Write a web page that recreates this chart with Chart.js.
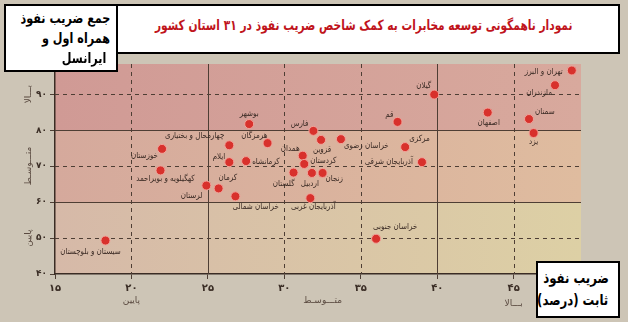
<!DOCTYPE html>
<html lang="fa">
<head>
    <meta charset="UTF-8">
    <title>نمودار ناهمگونی توسعه مخابرات</title>
    <script src="https://cdn.jsdelivr.net/npm/chart.js"></script>
    <style>
        html, body {
            margin: 0;
            padding: 0;
            background: #cdc5b6;
        }
        body {
            width: 628px;
            height: 322px;
            position: relative;
            overflow: hidden;
            font-family: 'DejaVu Sans', sans-serif;
        }
        .chart-container {
            position: absolute;
            left: 0;
            top: 0;
            width: 628px;
            height: 322px;
        }
        .box {
            position: absolute;
            background: #fff;
            border: 2px solid #000;
            box-sizing: border-box;
            direction: rtl;
            font-weight: bold;
            white-space: nowrap;
        }
        .box span {
            display: inline-block;
            transform: scaleX(0.78);
        }
        #title {
            left: 107px;
            top: 4px;
            width: 513px;
            height: 50px;
            color: #c0141c;
            font-size: 14px;
            text-align: center;
            padding-top: 11px;
        }
        #title span {
            transform: scaleX(0.76);
            margin-right: -20px;
        }
        #yName {
            left: 4px;
            top: 4px;
            width: 114px;
            height: 68px;
            font-size: 14px;
            line-height: 20px;
            padding: 2px 6px 0 0;
            text-align: right;
        }
        #yName span {
            transform-origin: right center;
            transform: scaleX(0.8);
        }
        #xName {
            left: 536px;
            top: 261px;
            width: 84px;
            height: 57px;
            font-size: 15px;
            line-height: 22px;
            padding-top: 4px;
            text-align: center;
        }
    </style>
</head>
<body>
    <div class="chart-container">
        <canvas id="nofuzChart"></canvas>
    </div>
    <div class="box" id="title"><span>نمودار ناهمگونی توسعه مخابرات به کمک شاخص ضریب نفوذ در ۳۱ استان کشور</span></div>
    <div class="box" id="yName"><span>جمع ضریب نفوذ</span><br><span>همراه اول و</span><br><span>&nbsp;ایرانسل&nbsp;&nbsp;</span></div>
    <div class="box" id="xName"><span>ضریب نفوذ</span><br><span>ثابت (درصد)</span></div>

    <script>
        // استان‌ها و ضریب نفوذ (خوانده شده از روی تصویر)
        const provinces = [
            'تهران و البرز', 'مازندران', 'گیلان', 'اصفهان', 'سمنان', 'یزد',
            'قم', 'بوشهر', 'فارس', 'خراسان رضوی', 'قزوین', 'هرمزگان',
            'چهارمحال و بختیاری', 'مرکزی', 'خوزستان', 'همدان', 'ایلام', 'کرمانشاه',
            'کردستان', 'آذربایجان شرقی', 'کهگیلویه و بویراحمد', 'گلستان', 'اردبیل', 'زنجان',
            'لرستان', 'کرمان', 'خراسان شمالی', 'آذربایجان غربی', 'خراسان جنوبی', 'سیستان و بلوچستان'
        ];
        // ضریب نفوذ ثابت (محور افقی)
        const fixedRate = [
            48.8, 47.7, 39.8, 43.3, 46.0, 46.3,
            37.4, 27.7, 31.9, 33.7, 32.4, 28.9,
            26.4, 37.9, 22.0, 31.2, 26.4, 27.5,
            31.3, 39.0, 21.9, 30.6, 31.8, 32.5,
            24.9, 25.7, 26.8, 31.7, 36.0, 18.3
        ];
        // جمع ضریب نفوذ همراه اول و ایرانسل (محور عمودی)
        const mobileRate = [
            96.6, 92.5, 89.9, 84.9, 83.1, 79.2,
            82.3, 81.7, 79.8, 77.5, 77.3, 76.4,
            75.8, 75.3, 74.8, 72.9, 71.1, 71.4,
            70.6, 71.1, 68.8, 68.2, 68.1, 68.1,
            64.6, 63.8, 61.6, 61.1, 49.8, 49.3
        ];
        const xTickValues = [15, 20, 25, 30, 35, 40, 45];
        const xTickLabels = ['۱۵', '۲۰', '۲۵', '۳۰', '۳۵', '۴۰', '۴۵'];
        const yTickValues = [40, 50, 60, 70, 80, 90];
        const yTickLabels = ['۴۰', '۵۰', '۶۰', '۷۰', '۸۰', '۹۰'];
        const levelNames = ['پایین', 'متـــوسـط', 'بـــالا'];

        // جای برچسب هر استان نسبت به نقطه: [dx, dy, align]
        const labelPlace = [
            [-9, 1, 'right'], [-3, 8, 'right'], [-3, -9, 'right'], [1, 10, 'center'], [6, -7, 'left'], [0, 9, 'center'],
            [-4, -7, 'right'], [0, -10, 'center'], [-5, -7, 'right'], [3, 7, 'left'], [1, 10, 'center'], [0, -7, 'right'],
            [-5, -9, 'right'], [4, -8, 'left'], [-4, 7, 'right'], [-3, -7, 'right'], [-4, -5, 'right'], [6, 1, 'left'],
            [6, -3, 'left'], [-9, 0, 'right'], [5, 8, 'center'], [1, 11, 'right'], [-2, 11, 'center'], [3, 6, 'left'],
            [-4, 10, 'right'], [0, -11, 'left'], [-3, 10, 'left'], [3, 9, 'center'], [-3, -12, 'left'], [-15, 11, 'center']
        ];

        const darkLine = '#4e3e34';

        const backgroundBands = {
            id: 'backgroundBands',
            beforeDraw(chart) {
                const { ctx, chartArea, scales: { x, y } } = chart;
                const bands = [
                    { from: 80, to: y.max, c0: '#d09a95', c1: '#d8a99d' },
                    { from: 60, to: 80, c0: '#d5a99c', c1: '#dfbc9f' },
                    { from: 40, to: 60, c0: '#d6b9a8', c1: '#ddd0a5' }
                ];
                ctx.save();
                bands.forEach(b => {
                    const top = y.getPixelForValue(b.to);
                    const bottom = y.getPixelForValue(b.from);
                    const g = ctx.createLinearGradient(chartArea.left, 0, chartArea.right, 0);
                    g.addColorStop(0, b.c0);
                    g.addColorStop(1, b.c1);
                    ctx.fillStyle = g;
                    ctx.fillRect(chartArea.left, top, chartArea.right - chartArea.left, bottom - top);
                });
                ctx.restore();
            },
            beforeDatasetsDraw(chart) {
                const { ctx, chartArea, scales: { x, y } } = chart;
                ctx.save();
                ctx.strokeStyle = darkLine;
                ctx.lineWidth = 1;
                // خطوط عمودی
                [20, 25, 30, 35, 40, 45].forEach(v => {
                    const px = Math.round(x.getPixelForValue(v)) + 0.5;
                    ctx.setLineDash(v === 25 || v === 40 ? [] : [4, 4]);
                    ctx.beginPath();
                    ctx.moveTo(px, chartArea.top);
                    ctx.lineTo(px, chartArea.bottom);
                    ctx.stroke();
                });
                // خطوط افقی
                [50, 60, 70, 80, 90].forEach(v => {
                    const py = Math.round(y.getPixelForValue(v)) + 0.5;
                    ctx.setLineDash(v === 60 || v === 80 ? [] : [4, 4]);
                    ctx.beginPath();
                    ctx.moveTo(chartArea.left, py);
                    ctx.lineTo(chartArea.right, py);
                    ctx.stroke();
                });
                ctx.restore();
            },
            afterDatasetsDraw(chart) {
                const { ctx, scales: { x, y } } = chart;
                const meta = chart.getDatasetMeta(0);
                ctx.save();
                ctx.font = '8.5px "DejaVu Sans"';
                ctx.fillStyle = '#3b2b25';
                ctx.textBaseline = 'middle';
                ctx.direction = 'rtl';
                meta.data.forEach((pt, i) => {
                    const [dx, dy, align] = labelPlace[i];
                    ctx.save();
                    ctx.translate(pt.x + dx, pt.y + dy);
                    ctx.scale(0.84, 1);
                    ctx.textAlign = align;
                    ctx.fillText(provinces[i], 0, 0);
                    ctx.restore();
                });

                // سطح‌ها زیر محور افقی
                ctx.font = '9px "DejaVu Sans"';
                ctx.fillStyle = '#5a4a40';
                ctx.textAlign = 'center';
                ctx.fillText(levelNames[0], x.getPixelForValue(20), 301);
                ctx.fillText(levelNames[1], x.getPixelForValue(32.5), 301);
                ctx.fillText(levelNames[2], x.getPixelForValue(45), 304);

                // سطح‌ها کنار محور عمودی
                [[90, levelNames[2]], [70, levelNames[1]], [50, levelNames[0]]].forEach(([v, t]) => {
                    ctx.save();
                    ctx.translate(29, y.getPixelForValue(v));
                    ctx.rotate(-Math.PI / 2);
                    ctx.fillText(t, 0, 0);
                    ctx.restore();
                });
                ctx.restore();
            }
        };

        const ctxNofuz = document.getElementById('nofuzChart').getContext('2d');
        new Chart(ctxNofuz, {
            type: 'scatter',
            data: {
                datasets: [{
                    label: 'استان‌ها',
                    data: fixedRate.map((v, i) => ({ x: v, y: mobileRate[i] })),
                    backgroundColor: '#d8312c',
                    borderColor: '#f2a39a',
                    borderWidth: 1,
                    pointRadius: 4.5,
                    pointHoverRadius: 4.5
                }]
            },
            options: {
                responsive: true,
                maintainAspectRatio: false,
                animation: false,
                events: [],
                layout: {
                    padding: { top: 64, right: 47, left: 0, bottom: 0 }
                },
                plugins: {
                    legend: { display: false },
                    tooltip: { enabled: false }
                },
                scales: {
                    x: {
                        type: 'linear',
                        min: 15,
                        max: 49.4,
                        afterBuildTicks: scale => {
                            scale.ticks = xTickValues.map(v => ({ value: v }));
                        },
                        afterFit: scale => { scale.height = 48; },
                        grid: {
                            drawOnChartArea: false,
                            drawTicks: true,
                            tickLength: 5,
                            color: darkLine
                        },
                        border: { color: '#3a2c24', width: 1.5 },
                        ticks: {
                            autoSkip: false,
                            maxRotation: 0,
                            padding: 3,
                            color: '#3a2d25',
                            font: { family: 'DejaVu Sans', size: 10, weight: 'bold' },
                            callback: v => xTickLabels[xTickValues.indexOf(v)]
                        }
                    },
                    y: {
                        type: 'linear',
                        min: 40,
                        max: 98.4,
                        afterBuildTicks: scale => {
                            scale.ticks = yTickValues.map(v => ({ value: v }));
                        },
                        afterFit: scale => { scale.width = 55; },
                        grid: {
                            drawOnChartArea: false,
                            drawTicks: true,
                            tickLength: 5,
                            color: darkLine
                        },
                        border: { color: '#3a2c24', width: 1.5 },
                        ticks: {
                            autoSkip: false,
                            padding: 3,
                            color: '#3a2d25',
                            font: { family: 'DejaVu Sans', size: 9, weight: 'bold' },
                            callback: v => yTickLabels[yTickValues.indexOf(v)]
                        }
                    }
                }
            },
            plugins: [backgroundBands]
        });
    </script>
</body>
</html>
